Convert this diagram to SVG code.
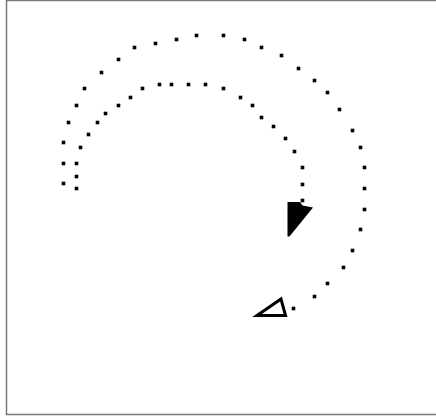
<svg xmlns="http://www.w3.org/2000/svg" width="436" height="416" viewBox="0 0 436 416">
<defs>
<style>
.frame{fill:none;stroke:#777;stroke-width:1.5}
.d{fill:#000}
.head{fill:#000;stroke:none}
.hollow{fill:#fff;stroke:#000;stroke-width:3;stroke-linejoin:miter}
</style>
<rect id="dot" x="-1.3" y="-1.3" width="3.6" height="3.6" class="d"/>
</defs>
<rect width="436" height="416" fill="#fff"/>
<rect class="frame" x="6.5" y="0.5" width="440" height="414"/>
<g id="connectors">
<g id="outer-arc">
<use href="#dot" x="63" y="183"/>
<use href="#dot" x="63" y="163"/>
<use href="#dot" x="63" y="142"/>
<use href="#dot" x="68" y="122"/>
<use href="#dot" x="76" y="105"/>
<use href="#dot" x="84" y="88"/>
<use href="#dot" x="101" y="72"/>
<use href="#dot" x="118" y="59"/>
<use href="#dot" x="134" y="47"/>
<use href="#dot" x="155" y="43"/>
<use href="#dot" x="176" y="39"/>
<use href="#dot" x="196" y="35"/>
<use href="#dot" x="223" y="35"/>
<use href="#dot" x="244" y="39"/>
<use href="#dot" x="261" y="47"/>
<use href="#dot" x="281" y="55"/>
<use href="#dot" x="298" y="68"/>
<use href="#dot" x="314" y="80"/>
<use href="#dot" x="327" y="92"/>
<use href="#dot" x="339" y="109"/>
<use href="#dot" x="352" y="130"/>
<use href="#dot" x="360" y="147"/>
<use href="#dot" x="364" y="167"/>
<use href="#dot" x="364" y="188"/>
<use href="#dot" x="364" y="209"/>
<use href="#dot" x="360" y="229"/>
<use href="#dot" x="352" y="250"/>
<use href="#dot" x="343" y="267"/>
<use href="#dot" x="327" y="283"/>
<use href="#dot" x="314" y="296"/>
<use href="#dot" x="293" y="308"/>
<polygon class="hollow" points="257,315.5 281,299 285.5,315.5"/>
</g>
<g id="inner-arc">
<use href="#dot" x="76" y="188"/>
<use href="#dot" x="76" y="176"/>
<use href="#dot" x="76" y="163"/>
<use href="#dot" x="80" y="147"/>
<use href="#dot" x="88" y="134"/>
<use href="#dot" x="97" y="122"/>
<use href="#dot" x="105" y="113"/>
<use href="#dot" x="118" y="105"/>
<use href="#dot" x="130" y="97"/>
<use href="#dot" x="142" y="88"/>
<use href="#dot" x="159" y="84"/>
<use href="#dot" x="171" y="84"/>
<use href="#dot" x="188" y="84"/>
<use href="#dot" x="205" y="84"/>
<use href="#dot" x="223" y="88"/>
<use href="#dot" x="240" y="97"/>
<use href="#dot" x="252" y="105"/>
<use href="#dot" x="261" y="117"/>
<use href="#dot" x="273" y="126"/>
<use href="#dot" x="285" y="138"/>
<use href="#dot" x="294" y="151"/>
<use href="#dot" x="302" y="167"/>
<use href="#dot" x="302" y="184"/>
<use href="#dot" x="302" y="200"/>
<polygon class="head" points="287.5,202 300,202 302.5,205.5 313,207.5 289.5,236.5 287.5,236.5"/>
</g>
</g>
</svg>
